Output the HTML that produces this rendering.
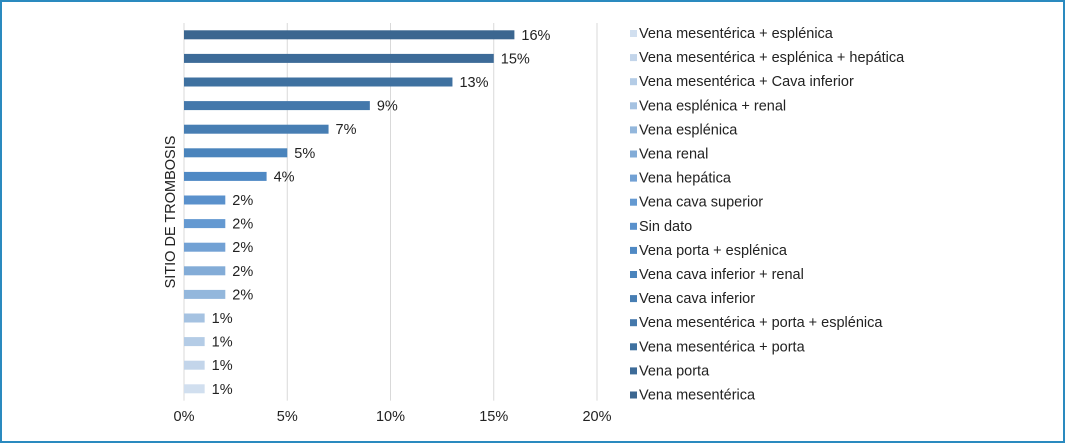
<!DOCTYPE html>
<html><head><meta charset="utf-8"><style>
html,body{margin:0;padding:0;background:#fff}
#wrap{position:relative;width:1066px;height:444px;overflow:hidden;font-family:"Liberation Sans",sans-serif}
</style></head><body>
<div id="wrap">
<svg id="chart" width="1066" height="444">
<rect x="1" y="1" width="1063" height="441" fill="none" stroke="#2a8abf" stroke-width="2"/>
<g id="grid"></g><g id="bars"></g><g id="legend"></g>
<text transform="translate(175,212) rotate(-90)" text-anchor="middle" font-size="14.5" fill="#222">SITIO DE TROMBOSIS</text>
</svg>
</div>
<script>
const categories=["Vena mesentérica","Vena porta","Vena mesentérica + porta","Vena mesentérica + porta + esplénica","Vena cava inferior","Vena cava inferior + renal","Vena porta + esplénica","Sin dato","Vena cava superior","Vena hepática","Vena renal","Vena esplénica","Vena esplénica + renal","Vena mesentérica + Cava inferior","Vena mesentérica + esplénica + hepática","Vena mesentérica + esplénica"];
const values=[16,15,13,9,7,5,4,2,2,2,2,2,1,1,1,1];
const colors=["#3b6690","#3d6b98","#3f71a0","#4478ab","#477eb3","#4a84bc","#4f89c4","#5a91cc","#6499d1","#72a1d4","#83acd7","#93b7dc","#a5c2e1","#b4cce6","#c3d5ea","#d1dfef"];
const ticks=[0,5,10,15,20];
const NS="http://www.w3.org/2000/svg";
const x0=184,pxPer=20.65,yTop=23,rowH=23.6,barH=9;
const xs=v=>x0+v*pxPer;
const ys=i=>yTop+rowH*(i+0.5);
function mk(t,a){const e=document.createElementNS(NS,t);for(const k in a)e.setAttribute(k,a[k]);return e;}
const grid=document.getElementById('grid'),bars=document.getElementById('bars'),leg=document.getElementById('legend');
ticks.forEach(t=>{
 const l=mk('line',{x1:xs(t),x2:xs(t),y1:yTop,y2:yTop+rowH*categories.length,stroke:'#d9d9d9','stroke-width':1});
 
 
 grid.appendChild(l);
 const tx=mk('text',{x:xs(t),y:421,'text-anchor':'middle','font-size':14.5,fill:'#222'});
 tx.textContent=t+'%';
 
 
 grid.appendChild(tx);
});
categories.forEach((c,i)=>{
 const r=mk('rect',{x:x0,y:ys(i)-barH/2,width:xs(values[i])-x0,height:barH,fill:colors[i]});
 
 
 bars.appendChild(r);
 const t=mk('text',{x:xs(values[i])+7,y:ys(i)+5,'font-size':14.5,fill:'#222'});
 t.textContent=values[i]+'%';
 
 
 bars.appendChild(t);
});
const n=categories.length;
for(let j=0;j<n;j++){
 const i=n-1-j, y=33+j*24.1;
 const s=mk('rect',{x:630,y:y-3,width:7,height:7,fill:colors[i]});
 
 
 leg.appendChild(s);
 const t=mk('text',{x:639,y:y+5,'font-size':14.5,fill:'#222'});
 t.textContent=categories[i];
 
 
 leg.appendChild(t);
}
</script>
</body></html>
